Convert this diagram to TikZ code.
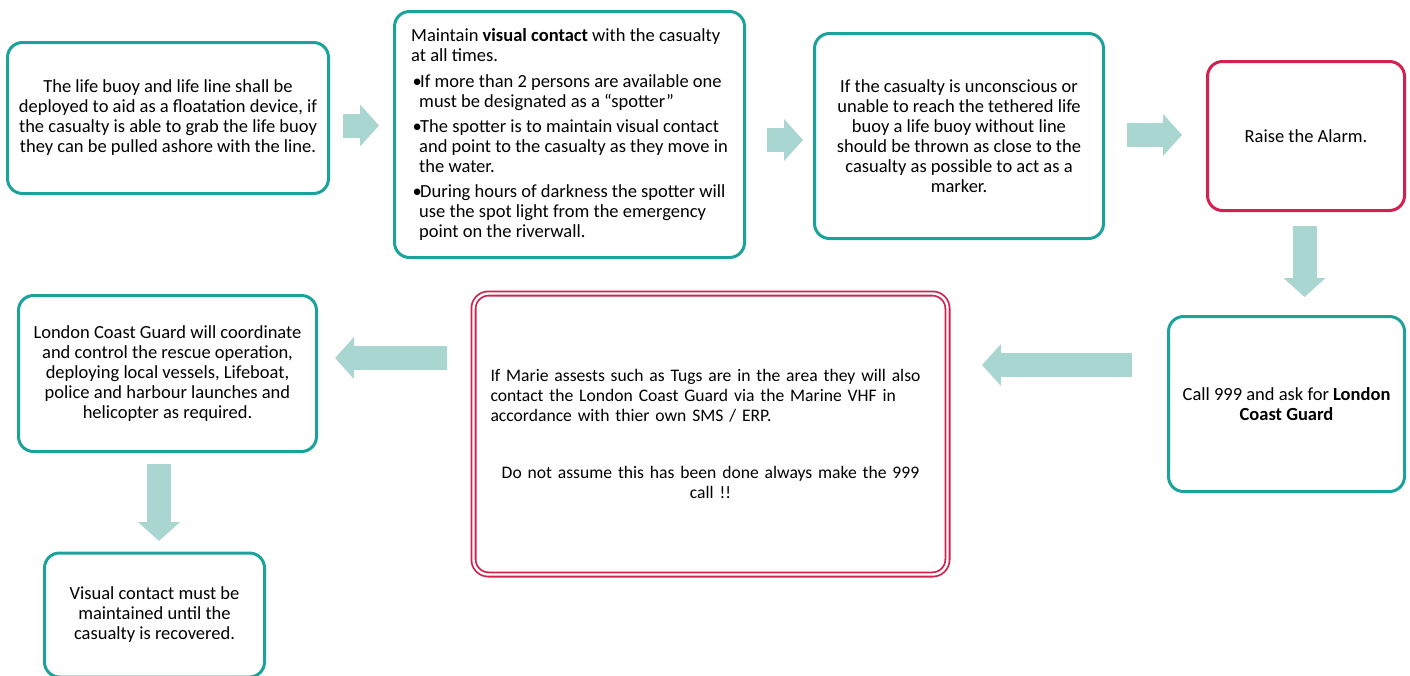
\documentclass[tikz,border=0pt]{standalone}
\usepackage{fontspec}
\setmainfont{Carlito}
\usetikzlibrary{arrows.meta}
\setlength{\parindent}{0pt}

\definecolor{stepteal}{HTML}{1BA39B}
\definecolor{alarmred}{HTML}{D2214F}
\definecolor{flowfill}{HTML}{A9D6D1}

\tikzset{
    stepbox/.style={draw=stepteal, line width=3pt, rounded corners=15pt, fill=white,
        inner sep=0pt, align=center, font=\fontsize{18.5}{20}\selectfont},
    alarmbox/.style={stepbox, draw=alarmred},
    warnbox/.style={stepbox, draw=alarmred, line width=1.8pt, double=white, double distance=2.4pt},
    flow/.style={draw=flowfill, line width=24pt, -{Triangle[width=41pt, length=19pt]}},
}
\newcommand{\bulletline}{\hspace*{1.5pt}\makebox[7.5pt][l]{\textbullet}}
\newcommand{\hangline}{\hspace*{8pt}}

\begin{document}
\begin{tikzpicture}[x=1pt, y=-1pt]
    \useasboundingbox (0, 0) rectangle (1410, 675);

    \node[stepbox, minimum width=321, minimum height=151] (buoy) at (168, 118)
        {The life buoy and life line shall be\\
         deployed to aid as a floatation device, if\\
         the casualty is able to grab the life buoy\\
         they can be pulled ashore with the line.};
    \node[stepbox, minimum width=350, minimum height=246, align=left] (watch) at (569.5, 134.5)
        {Maintain \textbf{visual contact} with the casualty\\
         at all times.\\[6pt]
         \bulletline If more than 2 persons are available one\\
         \hangline must be designated as a “spotter”\\[5pt]
         \bulletline The spotter is to maintain visual contact\\
         \hangline and point to the casualty as they move in\\
         \hangline the water.\\[5pt]
         \bulletline During hours of darkness the spotter will\\
         \hangline use the spot light from the emergency\\
         \hangline point on the riverwall.};
    \node[stepbox, minimum width=289, minimum height=205] (marker) at (959, 136)
        {If the casualty is unconscious or\\
         unable to reach the tethered life\\
         buoy a life buoy without line\\
         should be thrown as close to the\\
         casualty as possible to act as a\\
         marker.};
    \node[alarmbox, minimum width=197, minimum height=149] (alarm) at (1306, 136)
        {Raise the Alarm.};
    \node[stepbox, minimum width=236, minimum height=175] (call) at (1286.5, 404)
        {Call 999 and ask for \textbf{London}\\
         \textbf{Coast Guard}};
    \node[warnbox, minimum width=474, minimum height=281] (tugs) at (710.5, 434) {};
    \node[text width=440pt, font=\fontsize{17.6}{20}\selectfont] (tugstext) at (tugs.center)
        {\raggedright If Marie assests such as Tugs are in the area they will also\\
         contact the London Coast Guard via the Marine VHF in\\
         accordance with thier own SMS / ERP.\par
         \vspace{37pt}
         \centering Do not assume this has been done always make the 999\\
         call !!\par};
    \node[stepbox, minimum width=298, minimum height=156] (guard) at (167.5, 373.5)
        {London Coast Guard will coordinate\\
         and control the rescue operation,\\
         deploying local vessels, Lifeboat,\\
         police and harbour launches and\\
         helicopter as required.};
    \node[stepbox, minimum width=220, minimum height=124] (recover) at (154.5, 615)
        {Visual contact must be\\
         maintained until the\\
         casualty is recovered.};

    \coordinate (a1s) at (343, 125.5);
    \coordinate (a1e) at (379, 125.5);
    \coordinate (a2s) at (767, 140);
    \coordinate (a2e) at (803, 140);
    \coordinate (a3s) at (1127, 135);
    \coordinate (a3e) at (1182, 135);
    \coordinate (a4s) at (1304.5, 226);
    \coordinate (a4e) at (1304.5, 297);
    \coordinate (a5s) at (1132, 365);
    \coordinate (a5e) at (982, 365);
    \coordinate (a6s) at (447, 358);
    \coordinate (a6e) at (335, 358);
    \coordinate (a7s) at (159, 464);
    \coordinate (a7e) at (159, 541);

    \draw[flow] (a1s) -- (a1e);
    \draw[flow] (a2s) -- (a2e);
    \draw[flow] (a3s) -- (a3e);
    \draw[flow] (a4s) -- (a4e);
    \draw[flow] (a5s) -- (a5e);
    \draw[flow] (a6s) -- (a6e);
    \draw[flow] (a7s) -- (a7e);
\end{tikzpicture}
\end{document}
